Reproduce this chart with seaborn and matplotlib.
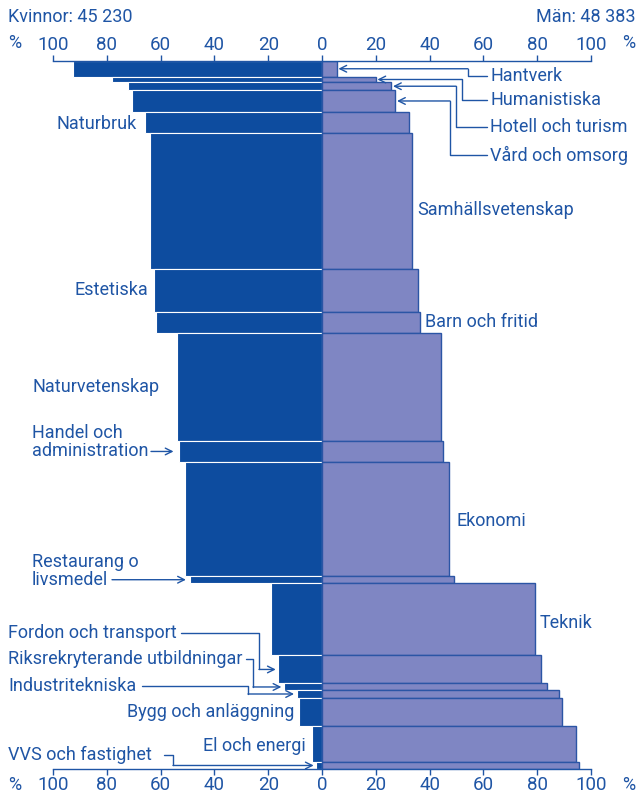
import numpy as np
import matplotlib
matplotlib.use("Agg")
import matplotlib.pyplot as plt
import seaborn as sns

sns.set_theme(style="white")
plt.rcParams['font.family'] = ['Roboto', 'DejaVu Sans']

programs = ["Hantverk", "Humanistiska", "Hotell och turism", "Vård och omsorg",
            "Naturbruk", "Samhällsvetenskap", "Estetiska", "Barn och fritid",
            "Naturvetenskap", "Handel och administration", "Ekonomi",
            "Restaurang o livsmedel", "Teknik", "Fordon och transport",
            "Riksrekryterande utbildningar", "Industritekniska",
            "Bygg och anläggning", "El och energi", "VVS och fastighet"]
students = [2050, 790, 990, 2910, 2840, 17900, 5690, 2780, 14280, 2780,
            15070, 990, 9520, 3700, 930, 930, 3830, 4690, 930]
women_pct = [92.7, 78.2, 72.3, 70.8, 65.8, 63.9, 62.4, 61.7, 53.8, 53.2,
             50.8, 49.1, 18.8, 16.2, 14.1, 9.4, 8.6, 3.6, 2.1]
men_pct = [5.5, 20.0, 25.8, 27.3, 32.3, 33.6, 35.8, 36.4, 44.2, 44.8,
           47.3, 48.9, 79.1, 81.5, 83.8, 88.2, 89.4, 94.4, 95.6]
ticks = [-100, -80, -60, -40, -20, 0, 20, 40, 60, 80, 100]

c_women = "#0d4c9f"
c_men = "#7f86c3"
c_edge = "#2b55a5"
c_text = "#1f55a5"

total = sum(students)
tops = np.concatenate([[0], np.cumsum(students)[:-1]])
heights = np.array(students)
centers = tops + heights / 2

W, H = 637, 794
fig = plt.figure(figsize=(W / 100, H / 100), dpi=100)
ax = fig.add_axes([53 / W, 1 - 769 / H, 538 / W, 708 / H])

ax.barh(tops, [-w for w in women_pct], height=heights, align="edge",
        color=c_women, edgecolor="white", linewidth=0.8)
ax.barh(tops, men_pct, height=heights, align="edge",
        color=c_men, edgecolor=c_edge, linewidth=1.0)

ax.set_xlim(-100, 100)
ax.set_ylim(total, 0)
ax.set_yticks([])
ax.set_xticks(ticks)
ax.set_xticklabels([str(abs(t)) for t in ticks])
ax.tick_params(axis="x", top=True, bottom=True, labeltop=True, labelbottom=True,
               direction="out", length=4.5, width=1, color=c_text,
               labelcolor=c_text, labelsize=13.5, pad=0.5)
for s in ["left", "right"]:
    ax.spines[s].set_visible(False)
for s in ["top", "bottom"]:
    ax.spines[s].set_color(c_text)
    ax.spines[s].set_linewidth(1)

fs = 13


def px(xp, yp):
    # convert picture pixels to data coordinates (layout only)
    return (xp - 322) / 2.69, (yp - 61) / 708 * total


fig.text(8 / W, 1 - 17 / H, "Kvinnor: 45 230", color=c_text, fontsize=fs, va="center")
fig.text(635 / W, 1 - 17 / H, "Män: 48 383", color=c_text, fontsize=fs, va="center", ha="right")
for yy in [43, 785]:
    fig.text(8 / W, 1 - yy / H, "%", color=c_text, fontsize=fs, va="center")
    fig.text(635 / W, 1 - yy / H, "%", color=c_text, fontsize=fs, va="center", ha="right")

lw = 1.0
akw = dict(arrowstyle="->", color=c_text, lw=lw, shrinkA=0, shrinkB=0)

# right-hand labels with elbow leaders
right_lab = [(0, 468, 76), (1, 462, 100), (2, 456, 127), (3, 450, 155)]
for i, cx, ty in right_lab:
    tip = (men_pct[i] + 0.6, centers[i])
    cx_d, ty_d = px(cx, ty)
    ex_d, _ = px(487, ty)
    ax.plot([ex_d, cx_d, cx_d], [ty_d, ty_d, tip[1]], color=c_text, lw=lw, clip_on=False)
    ax.annotate("", xy=tip, xytext=(cx_d, tip[1]), arrowprops=akw, annotation_clip=False)
    tx, _ = px(490, ty)
    ax.text(tx, ty_d, programs[i], color=c_text, fontsize=fs, va="center", clip_on=False)

# left-hand labels with elbow leaders
left_lab = [(13, 8, 633, 179, 259), (14, 8, 659, 244, 253),
            (15, 8, 686, 140, 248), (18, 8, 755, 162, 173)]
for i, x0, ty, ex, cx in left_lab:
    tip = (-women_pct[i] - 1.0, centers[i])
    ex_d, ty_d = px(ex + 2, ty)
    cx_d, _ = px(cx, ty)
    ax.plot([ex_d, cx_d, cx_d], [ty_d, ty_d, tip[1]], color=c_text, lw=lw, clip_on=False)
    ax.annotate("", xy=tip, xytext=(cx_d, tip[1]), arrowprops=akw, annotation_clip=False)
    tx, _ = px(x0, ty)
    ax.text(tx, ty_d, programs[i], color=c_text, fontsize=fs, va="center", clip_on=False)

# labels placed beside bars
plain = [(4, 137, "right"), (6, 148, "right"), (16, 294, "right"), (17, 306, "right"),
         (8, 32, "left"), (5, 417, "left"), (7, 425, "left"), (10, 456, "left"),
         (12, 540, "left")]
label_y = {4: 124, 6: 290, 16: 712, 17: 746, 8: 387, 5: 210, 7: 322, 10: 521, 12: 623}
for i, xp, ha in plain:
    tx, ty = px(xp, label_y[i])
    ax.text(tx, ty, programs[i], color=c_text, fontsize=fs, va="center", ha=ha, clip_on=False)

# two-line labels with straight arrows
tx, ty = px(32, 442)
ax.text(tx, ty, "Handel och\nadministration", color=c_text, fontsize=fs, va="center",
        linespacing=1.0, clip_on=False)
ax.annotate("", xy=(-women_pct[9] - 2.0, centers[9]), xytext=(px(151, 0)[0], centers[9]),
            arrowprops=akw, annotation_clip=False)

tx, ty = px(32, 571)
ax.text(tx, ty, "Restaurang o\nlivsmedel", color=c_text, fontsize=fs, va="center",
        linespacing=1.0, clip_on=False)
ax.annotate("", xy=(-women_pct[11] - 1.5, centers[11]), xytext=(px(112, 0)[0], centers[11]),
            arrowprops=akw, annotation_clip=False)

fig.savefig("out.png", dpi=100)
